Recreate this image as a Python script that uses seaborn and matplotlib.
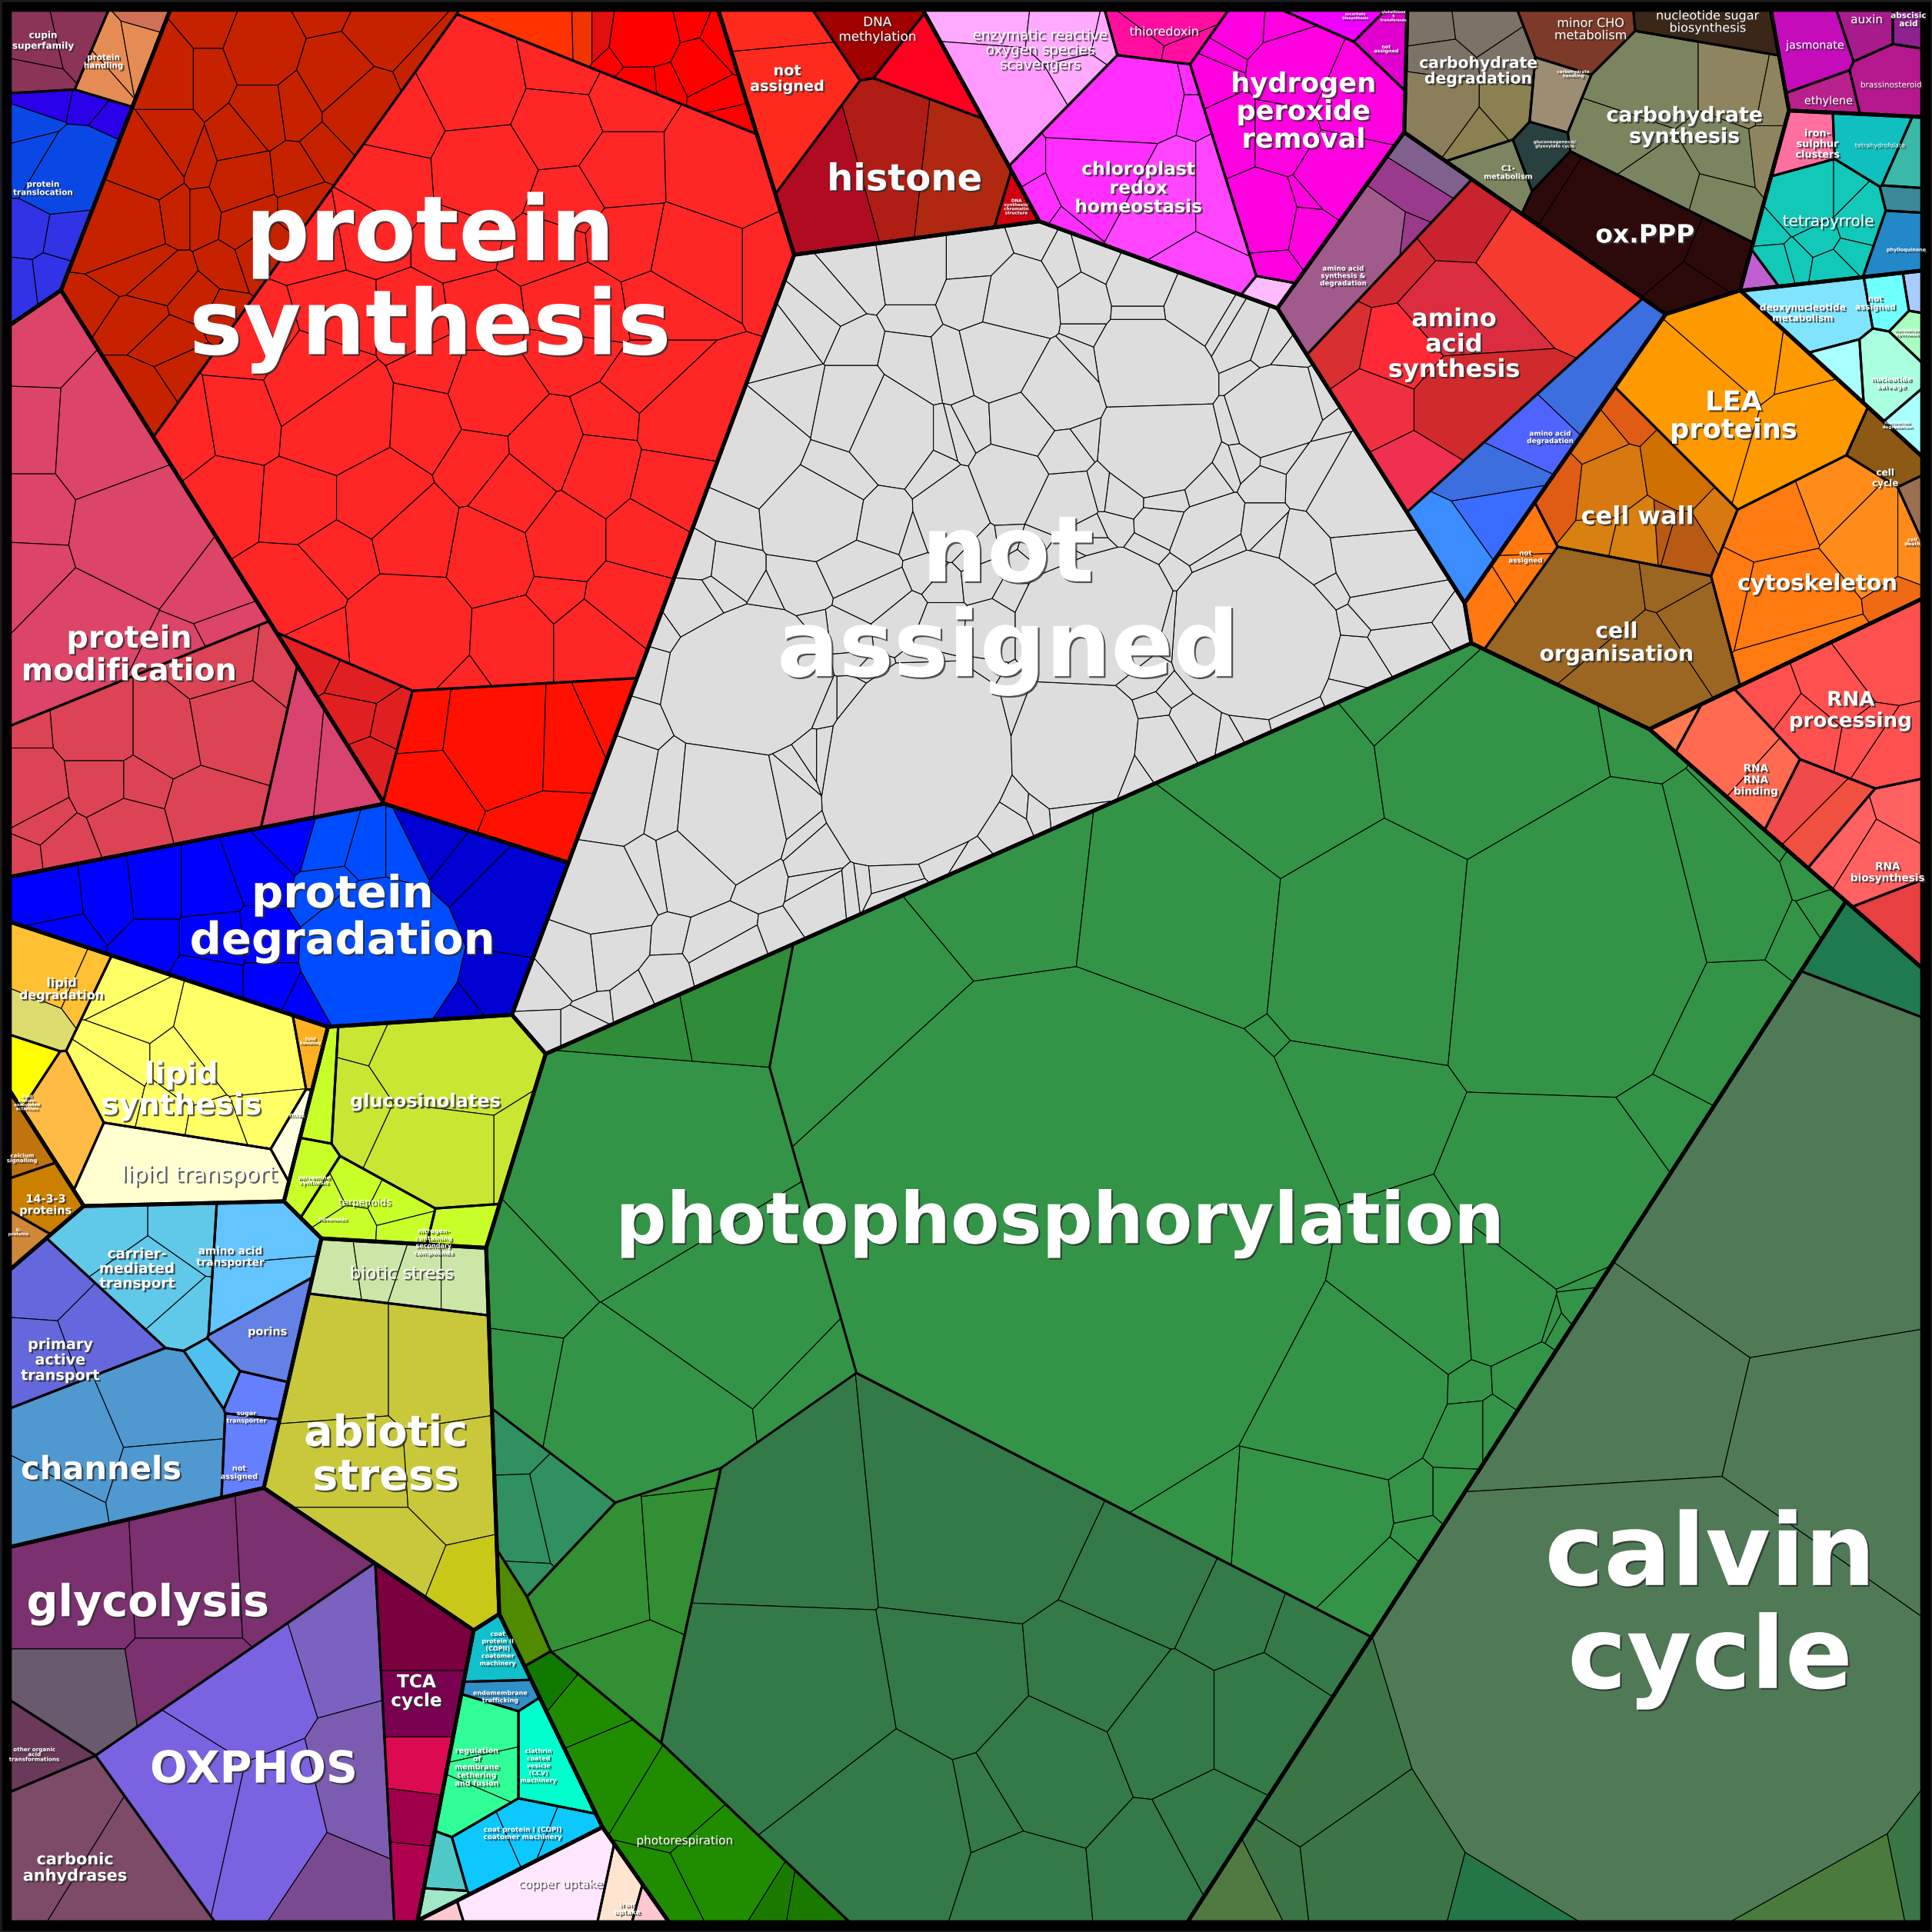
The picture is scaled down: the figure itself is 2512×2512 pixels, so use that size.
import numpy as np
import matplotlib
matplotlib.use("Agg")
import matplotlib.pyplot as plt
import matplotlib.patheffects as pe
import seaborn as sns

# voronoi treemap of proteome mass fractions, areas in 1000 px^2 of the 1568 px view
super_names = ["photosyn", "na", "protein", "chromatin", "redox", "amino", "carbo", "hormone", "cofactor", "nucleotide",
               "cellorg", "rna", "lipid", "signal", "secondary", "transport", "stress", "energy", "vesicle", "micro"]
super_areas = [1001.2, 283, 434, 34.8, 65.7, 60, 56.4, 9.7, 17.2, 11.1, 82.1, 33.1, 42.7, 4.35, 31.1, 56.4, 43.8, 112.3,
               18.3, 7.9]
super_sites = [(1030, 1139), (762, 535), (280, 356), (719, 220), (917, 111), (1157, 284), (1271, 120), (1504, 78),
               (1499, 182), (1510, 281), (1371, 433), (1469, 638), (111, 868), (-26, 956), (317, 920), (117, 1122),
               (303, 1165), (172, 1358), (462, 1414), (508, 1505)]
super_children = {"photosyn": ["photo", "calvin group"], "protein": ["psyn", "pmod", "pdeg", "ptop"]}
group_areas = {"photo": 735.6, "calvin group": 265.6, "psyn": 276.8, "pmod": 81.9, "pdeg": 55, "ptop": 20.3}
group_sites = {"photo": (830, 1020), "calvin group": (1323, 1338), "psyn": (360, 310), "pmod": (109, 468),
               "pdeg": (185, 857), "ptop": (-128, 120)}

bin_names = {
    "photo": ["phos", "phos left", "phos strip", "dark", "midgreen", "teal", "cam", "resp"],
    "calvin group": ["calvin", "corner"],
    "na": ["na"],
    "psyn": ["syn dark", "syn main", "syn top", "syn bright", "syn cluster"],
    "pmod": ["modif", "modif low", "modif tri"],
    "pdeg": ["degr"],
    "ptop": ["transloc", "handling", "cupin"],
    "chromatin": ["chrom na", "dna meth", "histone", "chrom red", "dna syn"],
    "redox": ["ros", "thio", "chloro", "h2o2", "asc", "redox na", "redox small"],
    "amino": ["aa mix", "aa syn", "aa deg"],
    "carbo": ["c deg", "c minor", "c sugar", "c syn", "c hand", "c gluco", "c c1", "oppp"],
    "hormone": ["jasm", "auxin", "aba", "brass", "ethyl"],
    "cofactor": ["iron s", "thf", "pyr", "tetrap", "phyllo", "fmn", "nad"],
    "nucleotide": ["deoxy", "nuc na", "nuc blue", "nuc syn", "salvage", "nuc ribo", "nuc deg"],
    "cellorg": ["lea", "ccycle", "wall", "cyto", "corg", "org na", "cdeath"],
    "rna": ["rna proc", "rna bind", "rna bio", "rna small", "rna mid", "rna edge"],
    "lipid": ["l deg", "l syn", "l trans", "l hand", "misc", "l bodies", "l orange"],
    "signal": ["14-3-3", "calcium", "gprot"],
    "secondary": ["gluc", "terp", "sec left", "ncont", "polyam"],
    "transport": ["carrier", "aatrans", "porin", "primary", "channel", "tr na", "sugar", "tr small"],
    "stress": ["biotic", "abiotic"],
    "energy": ["glyc", "orgacid", "carbonic", "oxphos", "tca"],
    "vesicle": ["copii", "endo", "regul", "clath", "copi", "snare", "cargo"],
    "micro": ["copper", "iron", "sulfur", "micro pink"],
}
bin_areas = {
    "photo": [421.7, 82.6, 8.9, 170.7, 18.6, 7.9, 1.8, 21],
    "calvin group": [261, 4.6],
    "na": [283.5],
    "psyn": [54, 185.7, 11, 20.6, 5.5],
    "pmod": [43, 32.5, 6.4],
    "pdeg": [55],
    "ptop": [10.5, 3.2, 3.8],
    "chromatin": [9.4, 2.9, 18.5, 3, 0.8],
    "redox": [10.5, 3, 21, 22.8, 1, 1.5, 0.6],
    "amino": [10.2, 36.7, 14.8],
    "carbo": [11, 3.5, 3, 20, 2, 1.5, 2, 12.5],
    "hormone": [2.8, 1.2, 0.6, 2.5, 1.2],
    "cofactor": [1.5, 2, 0.9, 6.5, 1.5, 0.4, 0.5],
    "nucleotide": [3.8, 1.2, 0.4, 0.6, 2.5, 1, 0.8],
    "cellorg": [19.7, 2, 13.5, 19.5, 18.3, 3.5, 0.5],
    "rna": [14, 6, 6, 2, 4, 0.6],
    "lipid": [5, 18, 7.5, 0.8, 0.8, 1.2, 3.3],
    "signal": [2.5, 1.5, 0.9],
    "secondary": [20, 4.5, 1.5, 1.5, 1.5],
    "transport": [9, 5.5, 3, 8, 17, 2, 1.2, 1],
    "stress": [7, 36.8],
    "energy": [37.3, 2.6, 14.9, 44.1, 13.4],
    "vesicle": [1.7, 1, 5, 3, 4.5, 1, 0.5],
    "micro": [5, 1.2, 0.3, 0.4],
}
bin_sites = {
    "photo": [(710, 1085), (629, 1108), (632, 1070), (669, 1165), (646, 1160), (613, 1129), (389, 1272), (456, 1389)],
    "calvin group": [(1350, 1200), (1510, 780)],
    "na": [(800, 480)],
    "psyn": [(351, 143), (397, 176), (401, 166), (421, 603), (235, 554)],
    "pmod": [(64, 444), (121, 585), (259, 616)],
    "pdeg": [(265, 740)],
    "ptop": [(47, 160), (80, 50), (40, 33)],
    "chromatin": [(638, 70), (705, 25), (725, 135), (752, 62), (825, 165)],
    "redox": [(838, 60), (945, 30), (930, 150), (1058, 110), (1100, 15), (1125, 40), (1035, 235)],
    "amino": [(1105, 200), (1190, 280), (1258, 355)],
    "carbo": [(1198, 65), (1290, 30), (1385, 22), (1370, 110), (1277, 72), (1262, 125), (1222, 140), (1330, 190)],
    "hormone": [(1470, 40), (1515, 25), (1542, 25), (1535, 70), (1485, 82)],
    "cofactor": [(1475, 120), (1525, 118), (1552, 130), (1490, 175), (1548, 195), (1432, 218), (1550, 160)],
    "nucleotide": [(1465, 255), (1522, 245), (1553, 240), (1548, 270), (1510, 310), (1480, 312), (1540, 345)],
    "cellorg": [(1405, 330), (1528, 385), (1325, 410), (1475, 470), (1305, 515), (1228, 460), (1552, 435)],
    "rna": [(1495, 560), (1420, 630), (1525, 705), (1550, 770), (1460, 650), (1350, 592)],
    "lipid": [(50, 805), (165, 860), (150, 955), (248, 845), (241, 905), (22, 890), (60, 915)],
    "signal": [(35, 975), (18, 925), (15, 1010)],
    "secondary": [(350, 885), (295, 985), (262, 880), (358, 1000), (248, 955)],
    "transport": [(110, 1035), (190, 1040), (215, 1085), (50, 1100), (85, 1190), (195, 1195), (200, 1150), (165, 1135)],
    "stress": [(327, 1030), (310, 1170)],
    "energy": [(116, 1304), (39, 1423), (81, 1522), (205, 1433), (337, 1426)],
    "vesicle": [(404, 1345), (405, 1380), (390, 1430), (437, 1430), (425, 1490), (362, 1508), (360, 1540)],
    "micro": [(440, 1530), (510, 1545), (360, 1555), (535, 1552)],
}
bin_colors = {
    "photo": ["#339448", "#339448", "#2f8c38", "#337a48", "#338f33", "#309060", "#4f8a00", "#208c00"],
    "calvin group": ["#4f7a55", "#1f7a4f"],
    "na": ["#dddddd"],
    "psyn": ["#c62200", "#ff2626", "#ff0000", "#ff1000", "#e02020"],
    "pmod": ["#dc4468", "#dc4455", "#d8446f"],
    "pdeg": ["#0000ff"],
    "ptop": ["#0a48e6", "#e58c55", "#8c3358"],
    "chromatin": ["#ff2a1e", "#a00000", "#b00b20", "#ff0020", "#d00010"],
    "redox": ["#ffaaff", "#ff0ea0", "#ff2dff", "#ff00e0", "#f000ff", "#e000d0", "#ffbbff"],
    "amino": ["#a05a8c", "#dc2c40", "#3a8cff"],
    "carbo": ["#8a7f5a", "#7d3a28", "#3a2718", "#7a8560", "#9d8d72", "#284040", "#7d8560", "#2d0a0a"],
    "hormone": ["#c40cbb", "#a81b8c", "#8f2090", "#b5188c", "#b8208c"],
    "cofactor": ["#ff70a0", "#10c0c0", "#3ab8a8", "#12c8b8", "#2288c8", "#c060d0", "#3a8898"],
    "nucleotide": ["#80e4ff", "#70ffff", "#a8ccff", "#a8ffc0", "#aaffe0", "#aaffff", "#aaffff"],
    "cellorg": ["#ff9900", "#8c5a14", "#c87010", "#ff7a10", "#9a6622", "#ff7810", "#9a7050"],
    "rna": ["#ff5050", "#ff6a50", "#ff6060", "#e84040", "#f04a4a", "#ff7a50"],
    "lipid": ["#ffc033", "#ffff66", "#ffffd0", "#ffb020", "#ffffe0", "#ffff00", "#ffbb44"],
    "signal": ["#cc8000", "#c07410", "#d08838"],
    "secondary": ["#c8e632", "#c8ff28", "#c8ff28", "#c8ff28", "#c8ff28"],
    "transport": ["#60c8e8", "#64c4ff", "#6482e6", "#6468dc", "#4f98d0", "#6480ff", "#6480ff", "#50c0f0"],
    "stress": ["#cce6a8", "#c8c83a"],
    "energy": ["#7b3070", "#6b3a5a", "#7d4a68", "#7b62e0", "#dc0a50"],
    "vesicle": ["#10c0cc", "#3090c8", "#30ff98", "#00ffcc", "#0cc8ff", "#50c8c8", "#a0e8c8"],
    "micro": ["#ffe6ff", "#ffe4d0", "#ffc8d0", "#ffc8d0"],
}

na_ring_areas = [0.5] * 54
na_ring_sites = [(540, 490), (580, 462), (620, 464), (665, 488), (684, 520), (687, 560), (674, 600), (645, 610),
                 (666, 560), (660, 600), (662, 645), (680, 685), (712, 703), (760, 712), (802, 695), (842, 655),
                 (843, 590), (805, 535), (700, 535), (750, 522), (838, 555), (952, 590), (948, 640), (905, 668),
                 (860, 672), (960, 520), (962, 468), (1000, 452), (1050, 448), (1092, 470), (1112, 510), (1106, 560),
                 (1076, 592), (1040, 600), (1000, 603), (965, 578), (830, 470), (880, 437), (930, 438), (870, 290),
                 (868, 340), (900, 384), (945, 386), (985, 368), (1006, 330), (1006, 280), (985, 248), (935, 240),
                 (885, 252), (1040, 278), (1079, 300), (1082, 345), (1050, 362), (1010, 360)]
leaf_areas = {
    "phos": [130, 12, 22, 24, 40, 12.7, 20, 7, 3, 12, 15.5, 5.4, 1, 1.5, 0.8, 2, 1.4, 1, 0.9, 11.5, 3, 4, 0.3, 0.5, 0.3,
             0.2, 14, 20, 2.5, 3, 17, 9, 0.8, 0.8, 0.8, 1.5, 0.6],
    "phos left": [33, 6, 18, 17, 3.2, 4],
    "phos strip": [3, 6],
    "dark": [20, 26, 9, 5, 4, 26, 11.5, 8, 7.5, 7.5, 10, 2.5, 18, 7, 7, 5],
    "calvin": [52, 24.5, 25, 124, 9.6, 11.5, 2.5, 2.6, 3, 5, 2],
    "midgreen": [7, 4.5, 5, 0.5],
    "teal": [1, 1.7, 2.2, 0.4],
    "resp": [2, 1, 3.5, 4, 5, 2, 0.9, 1],
    "na": [6.5, 6.5, 4.7, 14, 22, 9.5, 15.5, 12,
           2, 2, 3, 2, 1, 1, 1, 2, 1.6, 2.2, 1.6, 1, 1.2, 1.6, 3.4, 1.6, 3.4, 3.4, 2.2, 1.6, 1.6, 2, 3, 4.5, 2, 5, 1.6,
           2, 5, 2, 2, 2, 1.6, 1.6, 1.2, 1.6, 2, 1.6, 1, 1.6, 1, 4, 1.4, 2, 8, 1.6, 1.4, 3, 1.2, 5, 1.4, 1.8, 1, 1.8,
           1.6, 1, 2.4, 2, 1.2, 1, 0.6, 1, 1.4, 0.8, 0.8, 1.2, 0.6, 0.4, 2, 1.6, 1, 1.6, 2, 1, 2.4, 4, 4.5, 1.8, 2, 1,
           2.4, 1, 1, 0.8, 0.6, 0.8,
           3.4, 3.2, 2.2, 0.6, 1, 2, 1.2, 0.6, 0.8, 0.5, 0.8, 0.5, 0.6, 0.5, 0.8, 0.8, 1, 0.6, 0.6] + na_ring_areas,
    "syn main": [5, 1.5, 2, 3, 2, 4.5, 3, 2, 3, 5.5, 4, 2.5, 2.5, 2.5, 3, 2.5, 2, 3, 3.5, 2.5, 3, 3, 3, 3, 3, 2.5, 3.5,
                 1.5, 4.5, 3, 2, 5, 1.5, 2.5, 2, 2.5, 2.5, 2.5, 2, 3, 3, 3, 2.5, 3, 3.5, 3, 2, 3.5, 2.5, 1, 6.5, 3.5, 3,
                 1, 0.5],
    "syn dark": [2.5, 1, 0.6, 2, 1.8, 1.2, 1.8, 0.6, 1.2, 1, 1.8, 1.2, 0.6, 1, 0.9, 1, 1.4, 1.9, 0.8, 0.8, 1, 0.8, 2.7,
                 0.9, 1.1, 1, 1, 1, 1.4, 0.8, 0.8, 1.1, 1.4, 0.8],
    "syn top": [1.8, 0.6, 0.5, 2, 1.2, 0.8, 0.5, 0.4, 0.5, 0.3, 0.6, 0.4],
    "syn bright": [1.5, 1.5, 6, 3, 3, 3],
    "syn cluster": [0.7, 0.8, 0.8, 0.7, 0.7],
    "modif": [3.5, 2.5, 6, 2.5, 8, 2.2, 8.5, 2.5, 1, 1.5],
    "modif low": [2.3, 1.3, 3, 3, 4, 1.5, 1, 3.3, 2, 0.7, 2, 0.8, 1.2, 0.6],
    "modif tri": [2.3, 1.5],
    "degr": [1.5, 1.5, 1.5, 1.6, 1.5, 0.8, 0.6, 1.2, 1.2, 1.3, 0.8, 0.9, 0.5, 8, 1, 1, 0.8, 1, 3.5, 1.2, 1.5, 0.4, 1],
    "transloc": [0.8, 0.6, 0.6, 3.5, 1, 0.8, 1.2, 1, 0.9, 0.8],
    "handling": [0.5, 1, 0.9, 0.9],
    "cupin": [1.2, 1.2, 0.8],
    "histone": [5, 5.5, 5.3],
    "chrom na": [7, 2.4],
    "ros": [2, 2, 5, 1, 0.5],
    "thio": [1.4, 1, 0.6],
    "chloro": [6, 5, 5, 2.5, 2.5, 0.8, 0.8, 0.8, 0.3, 0.5],
    "h2o2": [1.5, 0.8, 4.5, 5, 3, 1.5, 0.6, 3.5, 1.5, 1, 2.5, 0.4, 4],
    "aa mix": [6.5, 1.8, 1.5, 0.4],
    "aa syn": [3, 8, 6, 3, 7, 3, 2.6, 2, 1.5],
    "aa deg": [4, 2.5, 2.4, 2.8, 2],
    "c deg": [1, 1.5, 1.5, 1.5, 3, 1.5, 1],
    "c syn": [5, 3, 3, 2.5, 2, 2, 1, 1],
    "oppp": [8, 2, 1.5, 1],
    "tetrap": [1.8, 1, 0.4, 0.5, 0.4, 0.5, 0.4, 0.5, 0.5],
    "lea": [8, 6, 4.5, 1.2],
    "wall": [1, 1, 1.5, 2.5, 2.2, 1, 1.5, 1.5, 1, 0.5],
    "cyto": [5, 3.5, 3, 2.5, 1, 2, 1, 1.5],
    "corg": [8, 6, 3, 1.3],
    "org na": [1, 1, 1.5],
    "rna proc": [4, 2.5, 2.5, 2, 1.5, 1.5],
    "rna bind": [4, 2],
    "rna bio": [3, 1.5, 1.5],
    "l syn": [6, 2, 1.5, 2, 2, 1.6, 1.2, 1.2, 1.4],
    "l deg": [2.5, 1, 1.5],
    "gluc": [9, 7, 3, 1, 1.4],
    "terp": [1, 1, 1, 0.8, 0.7],
    "carrier": [3, 2.5, 2, 1.5],
    "aatrans": [3, 2.5],
    "primary": [2.5, 3, 2.5],
    "channel": [5, 5, 4, 3],
    "abiotic": [7, 7, 7, 6, 4, 3],
    "biotic": [1.6, 1.6, 1.8, 2],
    "glyc": [7, 7, 6, 5, 3],
    "carbonic": [8, 7],
    "oxphos": [8, 7, 6, 5, 5, 4],
    "tca": [4, 3, 2, 1.5, 1.5],
    "regul": [2, 1.5, 1.5],
    "copi": [2, 1.5, 1],
    "rna mid": [2, 2],
}
leaf_sites = {
    "phos": [(859, 1004), (820, 730), (955, 745), (1105, 760), (1265, 775), (1082, 905), (1258, 976), (1389, 835),
             (1350, 910), (1132, 1056), (1082, 1121), (1201, 1051), (1176, 1124), (1235, 1121), (1205, 1166),
             (1180, 1166), (1140, 1212), (1178, 1212), (1147, 1247), (1059, 1222), (1117, 1282), (990, 1217),
             (1268, 1075), (1285, 1060), (1305, 1048), (1255, 1068), (1035, 640), (1175, 620), (1290, 600), (1125, 565),
             (700, 830), (1385, 745), (1430, 700), (1460, 720), (1470, 750), (1440, 770), (1015, 838)],
    "phos left": [(530, 940), (435, 1030), (590, 1040), (530, 1125), (660, 1108), (425, 1105)],
    "phos strip": [(500, 842), (590, 825)],
    "dark": [(635, 1226), (787, 1211), (921, 1274), (993, 1308), (1068, 1335), (629, 1390), (769, 1366), (885, 1356),
             (942, 1400), (1026, 1400), (847, 1438), (799, 1467), (703, 1486), (823, 1525), (930, 1515), (984, 1486)],
    "calvin": [(1450, 971), (1331, 1141), (1484, 1177), (1345, 1375), (1086, 1453), (1128, 1513), (1042, 1523),
               (1012, 1538), (1243, 1543), (1442, 1548), (1542, 1528)],
    "midgreen": [(476, 1269), (548, 1264), (506, 1361), (542, 1209)],
    "teal": [(420, 1170), (422, 1225), (465, 1215), (420, 1265)],
    "resp": [(482, 1390), (453, 1366), (500, 1433), (548, 1462), (590, 1510), (530, 1540), (638, 1540), (668, 1545)],
    "na": [(935, 280), (937, 346), (1037, 320), (609, 536), (753, 613), (893, 609), (1030, 525), (898, 503),
           (666, 245), (696, 219), (741, 212), (796, 212), (838, 197), (870, 214), (900, 206), (935, 223), (885, 236),
           (965, 236), (995, 254), (1020, 263), (741, 258), (798, 236), (825, 241), (776, 291), (815, 282), (855, 304),
           (736, 298), (686, 287), (646, 269), (629, 282), (686, 337), (706, 346), (641, 328), (621, 352), (674, 374),
           (601, 398), (664, 392), (656, 447), (698, 398), (686, 433), (696, 455), (718, 482), (681, 486), (756, 497),
           (810, 503), (591, 447), (551, 442), (571, 468), (531, 521), (502, 613), (514, 578), (554, 622), (596, 626),
           (639, 617), (626, 677), (569, 655), (532, 661), (492, 681), (676, 661), (691, 705), (554, 720), (601, 731),
           (611, 749), (646, 736), (479, 718), (497, 716), (454, 740), (457, 806), (502, 775), (537, 771), (556, 762),
           (487, 806), (756, 698), (835, 666), (786, 685), (736, 700), (955, 615), (980, 600), (940, 556), (1109, 547),
           (1144, 525), (1169, 508), (1139, 486), (1132, 447), (1129, 414), (1094, 394), (1084, 455), (1040, 392),
           (987, 431), (1040, 438), (942, 414), (908, 385), (900, 416), (970, 379),
           (756, 396), (818, 372), (864, 394), (766, 341), (791, 328), (830, 326), (860, 346), (746, 346), (736, 368),
           (726, 407), (786, 425), (820, 420), (850, 429), (880, 425), (736, 438), (756, 455), (796, 451), (835, 447),
           (875, 447)] + na_ring_sites,
    "syn main": [(387, 67), (454, 54), (330, 96), (450, 94), (497, 76), (393, 129), (322, 134), (456, 152), (497, 127),
                 (573, 125), (548, 196), (606, 196), (502, 187), (443, 192), (376, 178), (297, 178), (247, 187),
                 (522, 241), (464, 250), (460, 278), (397, 259), (330, 268), (268, 268), (209, 285), (252, 316),
                 (522, 321), (397, 321), (347, 303), (268, 339), (205, 334), (150, 343), (556, 357), (497, 352),
                 (447, 370), (389, 375), (339, 343), (549, 401), (493, 388), (422, 401), (301, 401), (247, 401),
                 (192, 397), (531, 433), (464, 433), (401, 446), (330, 433), (276, 446), (242, 477), (518, 482),
                 (460, 473), (326, 508), (418, 513), (493, 513), (259, 513), (368, 549)],
    "syn dark": [(213, 40), (167, 22), (263, 13), (301, 31), (125, 58), (167, 58), (272, 58), (330, 58), (213, 80),
                 (242, 76), (288, 76), (125, 94), (159, 107), (196, 94), (263, 100), (238, 116), (201, 120), (96, 107),
                 (125, 138), (163, 138), (209, 143), (247, 143), (92, 143), (184, 183), (226, 169), (105, 178),
                 (125, 201), (84, 210), (117, 232), (150, 223), (176, 236), (138, 254), (117, 303), (150, 281)],
    "syn top": [(391, 20), (445, 20), (466, 20), (514, 27), (560, 50), (573, 76), (525, 67), (585, 98), (552, 18),
                (489, 45), (590, 30), (538, 95)],
    "syn bright": [(330, 580), (472, 571), (397, 589), (334, 633), (426, 669), (430, 590)],
    "syn cluster": [(263, 535), (293, 550), (288, 575), (313, 580), (300, 607)],
    "modif": [(33, 281), (31, 335), (94, 339), (31, 388), (117, 401), (29, 428), (79, 477), (176, 446), (192, 490),
              (150, 512)],
    "modif low": [(176, 530), (217, 535), (82, 580), (136, 580), (188, 571), (82, 625), (109, 625), (167, 642),
                  (100, 660), (21, 585), (21, 633), (31, 652), (54, 678), (19, 682)],
    "modif tri": [(242, 625), (284, 629)],
    "degr": [(30, 730), (75, 725), (120, 720), (170, 720), (225, 700), (255, 670), (35, 755), (120, 770), (175, 770),
             (225, 765), (170, 800), (225, 800), (255, 815), (335, 770), (290, 680), (325, 690), (355, 690), (295, 720),
             (430, 730), (400, 700), (420, 790), (395, 810), (375, 680)],
    "transloc": [(37, 75), (60, 80), (78, 95), (55, 145), (30, 130), (25, 110), (32, 190), (60, 195), (28, 225),
                 (52, 222)],
    "handling": [(108, 22), (72, 55), (100, 50), (50, 68)],
    "cupin": [(25, 25), (65, 16), (18, 60)],
    "histone": [(680, 145), (735, 130), (780, 135)],
    "chrom na": [(635, 80), (630, 25)],
    "ros": [(828, 21), (880, 27), (823, 89), (886, 52), (905, 30)],
    "thio": [(945, 25), (930, 45), (955, 50)],
    "chloro": [(912, 89), (909, 146), (946, 166), (1001, 166), (977, 218), (967, 100), (849, 146), (862, 168), (967, 77),
               (880, 181)],
    "h2o2": [(1012, 17), (1046, 19), (1059, 60), (1112, 83), (1051, 104), (985, 69), (993, 50), (1030, 173), (1070, 181),
             (1033, 208), (1001, 104), (1072, 160), (1101, 135)],
    "aa mix": [(1085, 240), (1130, 175), (1155, 135), (1095, 300)],
    "aa syn": [(1195, 165), (1255, 205), (1190, 265), (1150, 300), (1195, 340), (1135, 340), (1160, 405), (1100, 290),
               (1135, 215)],
    "aa deg": [(1295, 270), (1260, 315), (1230, 380), (1200, 445), (1235, 425)],
    "c deg": [(1165, 30), (1205, 25), (1170, 65), (1225, 55), (1165, 100), (1220, 100), (1195, 122)],
    "c syn": [(1350, 70), (1415, 70), (1330, 130), (1395, 125), (1345, 165), (1385, 165), (1440, 120), (1440, 75)],
    "oppp": [(1325, 185), (1395, 215), (1375, 245), (1270, 150)],
    "tetrap": [(1488, 155), (1535, 170), (1480, 200), (1510, 205), (1460, 180), (1500, 180), (1525, 195), (1462, 205),
               (1510, 155)],
    "lea": [(1365, 320), (1450, 345), (1400, 280), (1435, 285)],
    "wall": [(1280, 380), (1310, 355), (1250, 410), (1295, 415), (1360, 405), (1290, 460), (1360, 465), (1325, 455),
             (1400, 440), (1345, 490)],
    "cyto": [(1445, 490), (1505, 440), (1430, 420), (1470, 405), (1545, 440), (1455, 540), (1530, 480), (1400, 480)],
    "corg": [(1270, 490), (1325, 555), (1370, 525), (1345, 480)],
    "org na": [(1238, 420), (1240, 470), (1208, 490)],
    "rna proc": [(1510, 530), (1530, 620), (1470, 560), (1445, 590), (1500, 600), (1420, 575)],
    "rna bind": [(1400, 615), (1450, 665)],
    "rna bio": [(1520, 715), (1480, 690), (1545, 670)],
    "l syn": [(195, 855), (110, 835), (90, 890), (150, 890), (60, 915), (200, 905), (125, 930), (160, 925), (100, 815)],
    "l deg": [(45, 800), (100, 810), (25, 850)],
    "gluc": [(355, 870), (345, 950), (280, 920), (300, 845), (405, 950)],
    "terp": [(285, 965), (315, 980), (280, 998), (320, 1000), (265, 975)],
    "carrier": [(105, 1060), (70, 1010), (140, 1010), (130, 1100)],
    "aatrans": [(185, 1010), (190, 1070)],
    "primary": [(40, 1060), (90, 1110), (35, 1130)],
    "channel": [(50, 1200), (120, 1170), (125, 1230), (30, 1240)],
    "abiotic": [(275, 1100), (345, 1100), (280, 1170), (355, 1165), (280, 1240), (380, 1280)],
    "biotic": [(280, 1035), (315, 1030), (345, 1040), (378, 1040)],
    "glyc": [(60, 1280), (155, 1275), (250, 1270), (60, 1385), (155, 1370)],
    "carbonic": [(45, 1490), (110, 1530)],
    "oxphos": [(120, 1480), (210, 1500), (170, 1400), (265, 1370), (295, 1480), (270, 1540)],
    "tca": [(340, 1340), (340, 1410), (340, 1450), (335, 1490), (330, 1540)],
    "regul": [(380, 1400), (390, 1445), (375, 1480)],
    "copi": [(400, 1500), (445, 1480), (470, 1490)],
    "rna mid": [(1455, 640), (1475, 660)],
}
leaf_colors = {
    "calvin": ["#4f7a55"] * 4 + ["#3b7546", "#3b7546", "#3b7546", "#507a42", "#247548", "#4a7a3c", "#3a7546"],
    "resp": ["#1f8c00", "#107a00", "#208c00", "#208c00", "#208c00", "#208c00", "#1a7a00", "#1a7a00"],
    "syn top": ["#ff3300", "#f03500", "#e01010"] + ["#ff0000"] * 9,
    "degr": ["#0000ff"] * 13 + ["#004cff"] * 5 + ["#0000d2"] * 5,
    "transloc": ["#2a00e8"] * 3 + ["#0a48e6"] * 3 + ["#3232e6"] * 4,
    "handling": ["#d07058", "#e58c55", "#e58c55", "#e58c55"],
    "histone": ["#b00b20", "#b01d14", "#b02810"],
    "ros": ["#ffaaff", "#ffaaff", "#ff99ff", "#ffaaff", "#ffaaff"],
    "chloro": ["#ff2dff", "#ff2dff", "#ff45ff", "#ff45ff", "#ff45ff", "#ff2dff", "#ff2dff", "#ff2dff", "#ff2dff",
               "#ff2dff"],
    "aa mix": ["#a05a8c", "#9a3a8c", "#80608c", "#9a3a8c"],
    "aa syn": ["#c8232f", "#f53a30", "#dc2c40", "#ff2a35", "#d02a2c", "#f03040", "#f03050", "#d83030", "#d02a30"],
    "aa deg": ["#3c6ee0", "#4f64ff", "#3c6ee0", "#3a8cff", "#3a6cff"],
    "c deg": ["#7d7266", "#7d7266", "#7d7266", "#7d7266", "#8a7f5a", "#8a8050", "#8a8050"],
    "c syn": ["#7a8560", "#8e8560", "#7a8560", "#7a8560", "#7a8560", "#7a8560", "#8e8560", "#8e8560"],
    "wall": ["#e07010", "#e05c14", "#e05c14", "#d87810", "#d07000", "#d88010", "#b85a14", "#d88010", "#d87810", "#b85a14"],
    "cyto": ["#ff7a10", "#ff8c1a", "#ff7a10", "#ff8c1a", "#ff8c1a", "#ff7a10", "#f06a14", "#ff7a10"],
    "l deg": ["#ffc033", "#ffc033", "#dcdc6e"],
    "glyc": ["#7b3070", "#7b3070", "#7b3070", "#6a5a6e", "#7b3070"],
    "oxphos": ["#7b62e0", "#7b62e0", "#7b62e0", "#7b62c0", "#7b5cb0", "#7a4a90"],
    "tca": ["#7a0040", "#7a0050", "#dc0a50", "#a0004a", "#b00050"],
    "abiotic": ["#c8c83a", "#c8c83a", "#c8c83a", "#c8c83a", "#c8c83a", "#c8c818"],
    "rna mid": ["#f04a4a", "#f05040"],
}
thin_outline = ["phos left", "phos strip"]

# text stays apart from the values
label_text = ["protein\nsynthesis", "not\nassigned", "photophosphorylation", "calvin\ncycle", "histone",
              "protein\nmodification", "protein\ndegradation", "glycolysis", "OXPHOS", "channels", "abiotic\nstress",
              "lipid\nsynthesis", "glucosinolates", "lipid transport", "hydrogen\nperoxide\nremoval",
              "chloroplast\nredox\nhomeostasis", "enzymatic reactive\noxygen species\nscavengers", "thioredoxin",
              "not\nassigned", "DNA\nmethylation", "amino\nacid\nsynthesis", "carbohydrate\ndegradation",
              "minor CHO\nmetabolism", "nucleotide sugar\nbiosynthesis", "carbohydrate\nsynthesis", "ox.PPP",
              "jasmonate", "auxin", "abscisic\nacid", "ethylene", "brassinosteroid", "iron-\nsulphur\nclusters",
              "tetrahydrofolate", "tetrapyrrole", "deoxynucleotide\nmetabolism", "not\nassigned", "nucleotide\nsalvage",
              "LEA\nproteins", "cell wall", "cytoskeleton", "cell\norganisation", "cell\ncycle", "not\nassigned",
              "amino acid\ndegradation", "amino acid\nsynthesis &\ndegradation", "RNA\nprocessing", "RNA\nRNA\nbinding",
              "RNA\nbiosynthesis", "protein\nhandling", "cupin\nsuperfamily", "protein\ntranslocation",
              "lipid\ndegradation", "14-3-3\nproteins", "carrier-\nmediated\ntransport", "amino acid\ntransporter",
              "porins", "primary\nactive\ntransport", "not\nassigned", "sugar\ntransporter", "biotic stress",
              "carbonic\nanhydrases", "TCA\ncycle", "coat protein I (COPI)\ncoatomer machinery",
              "regulation\nof\nmembrane\ntethering\nand fusion", "clathrin\ncoated\nvesicle\n(CCV)\nmachinery",
              "coat\nprotein II\n(COPII)\ncoatomer\nmachinery", "endomembrane\ntrafficking", "copper uptake",
              "iron\nuptake", "photorespiration", "terpenoids", "other organic\nacid\ntransformations", "misc",
              "C1-\nmetabolism", "cell\ndeath", "DNA\nsynthesis/\nchromatin\nstructure", "carbohydrate\nhandling",
              "gluconeogenesis/\nglyoxylate cycle", "phylloquinone", "polyamine\nsynthesis", "lipid\nhandling",
              "lipid\nbodies-\nassociated\nactivities", "calcium\nsignalling", "G-\nproteins", "glutathione\nS\ntransferases",
              "ascorbate\nbiosynthesis", "not\nassigned", "nucleotide\nsynthesis", "nucleotide\ndegradation",
              "flavonoids", "nitrogen-\ncontaining\nsecondary\ncompounds"]
label_pos = [(349, 229), (818, 490), (860, 993), (1388, 1306), (734, 146), (105, 532), (278, 745), (120, 1302),
             (206, 1437), (82, 1193), (313, 1182), (147, 885), (345, 894), (162, 954), (1058, 91), (924, 153), (844, 41),
             (945, 26), (639, 64), (712, 24), (1180, 280), (1200, 58), (1291, 24), (1386, 18), (1367, 103), (1335, 191),
             (1473, 37), (1515, 16), (1549, 16), (1484, 82), (1535, 69), (1475, 117), (1526, 118), (1484, 180),
             (1463, 254), (1522, 246), (1535, 311), (1407, 338), (1329, 420), (1475, 474), (1312, 522), (1530, 388),
             (1238, 452), (1258, 355), (1090, 224), (1502, 577), (1425, 633), (1532, 708), (84, 50), (35, 33), (35, 153),
             (50, 803), (37, 978), (111, 1030), (187, 1020), (217, 1081), (49, 1104), (194, 1195), (200, 1150),
             (326, 1034), (61, 1516), (338, 1373), (424, 1488), (387, 1434), (437, 1433), (404, 1338), (406, 1377),
             (455, 1529), (509, 1549), (556, 1494), (296, 976), (28, 1424), (241, 905), (1224, 140), (1552, 440),
             (825, 168), (1277, 60), (1262, 117), (1547, 203), (255, 958), (252, 845), (22, 895), (18, 940), (15, 1000),
             (1131, 13), (1100, 13), (1125, 40), (1548, 270), (1540, 345), (270, 990), (352, 1008)]
label_size = [73, 74.6, 57.8, 81, 30, 24.8, 36, 35.7, 35.7, 26, 34.7, 24.3, 15, 18, 22, 14.6, 11.5, 10, 12, 10.5, 20,
              12.7, 10, 10, 16.8, 20.6, 9, 9.5, 6.5, 9, 6.5, 8, 5, 12.5, 7.5, 6.5, 5.5, 22, 20, 18, 17.6, 7.5, 5.5, 5.5,
              5.5, 16.3, 8.5, 8.5, 6.5, 7.5, 6.5, 10, 9, 11.5, 8.5, 9, 12, 6, 5, 14, 13, 14.5, 5.5, 6, 5, 5, 5, 9.5, 5.5,
              9.5, 8, 4.5, 5, 6, 4, 3.5, 3.5, 3.5, 4, 4.5, 3.5, 3.5, 4.5, 3.5, 3, 3, 4, 3.5, 3.5, 4, 5]
label_light = ["lipid transport", "copper uptake", "photorespiration", "thioredoxin", "jasmonate", "auxin", "ethylene",
               "tetrapyrrole", "terpenoids", "biotic stress", "enzymatic reactive\noxygen species\nscavengers",
               "DNA\nmethylation", "minor CHO\nmetabolism", "nucleotide sugar\nbiosynthesis", "brassinosteroid",
               "tetrahydrofolate"]


def poly_area(v):
    x, y = v[:, 0], v[:, 1]
    return 0.5 * abs(np.dot(x, np.roll(y, -1)) - np.dot(y, np.roll(x, -1)))


def clip_poly(verts, owners, n, c, j):
    vals = verts @ n - c
    out_v, out_o = [], []
    m = len(verts)
    for k in range(m):
        a, b = verts[k], verts[(k + 1) % m]
        va, vb = vals[k], vals[(k + 1) % m]
        if va <= 0:
            out_v.append(a)
            out_o.append(owners[k])
            if vb > 0:
                out_v.append(a + (b - a) * va / (va - vb))
                out_o.append(j)
        elif vb <= 0:
            out_v.append(a + (b - a) * va / (va - vb))
            out_o.append(owners[k])
    return np.array(out_v), out_o


def power_cell(i, poly, sites, w):
    # power diagram cell of site i, always clip by the worst violated half plane
    d = sites - sites[i]
    n = 2 * d
    c = (sites ** 2).sum(1) - (sites[i] ** 2).sum() - w + w[i]
    n[i] = 0
    c[i] = 1
    verts, owners = poly.copy(), [-1] * len(poly)
    while len(verts) >= 3:
        viol = (verts @ n.T - c).max(axis=0)
        j = int(np.argmax(viol))
        if viol[j] <= 1e-9:
            return verts, owners
        verts, owners = clip_poly(verts, owners, n[j], c[j], j)
    return np.zeros((0, 2)), []


def inside_mask(poly, pts):
    e = np.roll(poly, -1, axis=0) - poly
    cr = e[:, 0][:, None] * (pts[:, 1] - poly[:, 1][:, None]) - e[:, 1][:, None] * (pts[:, 0] - poly[:, 0][:, None])
    return (cr >= 0).all(axis=0) | (cr <= 0).all(axis=0)


def fit_cells(poly, sites, values, pull=False, iters=70):
    # newton iteration on the weights until cell areas match the values
    sites = np.array(sites, float)
    values = np.array(values, float)
    m = len(values)
    if m == 1:
        return [poly]
    mid = poly.mean(axis=0)
    if pull:
        for i in range(m):
            while not inside_mask(poly, sites[i][None])[0]:
                sites[i] = mid + 0.92 * (sites[i] - mid)
    T = values / values.sum() * poly_area(poly)
    w = np.zeros(m)
    D2 = ((sites[:, None] - sites[None]) ** 2).sum(axis=2)
    lo, hi = poly.min(axis=0), poly.max(axis=0)
    gx, gy = np.meshgrid(np.linspace(lo[0], hi[0], 40), np.linspace(lo[1], hi[1], 40))
    grid = np.c_[gx.ravel(), gy.ravel()]
    grid = np.vstack([grid[inside_mask(poly, grid)], mid])
    G2 = ((grid[:, None] - sites[None]) ** 2).sum(axis=2)

    def all_cells(w):
        cells = [power_cell(i, poly, sites, w) for i in range(m)]
        A = np.array([poly_area(v) if len(v) >= 3 else 0.0 for v, _ in cells])
        return cells, A

    cells, A = all_cells(w)
    for _ in range(iters):
        for i in np.where(A == 0)[0]:
            # bring a vanished cell back above its neighbours
            others = np.delete(G2 - w, i, axis=1).min(axis=1)
            w[i] = (G2[:, i] - others).min() + T[i] / np.pi
        if (A == 0).any():
            cells, A = all_cells(w)
        err = T - A
        if np.max(np.abs(err) / T) < 0.02:
            break
        J = np.eye(m) * 1e-4
        for i, (v, o) in enumerate(cells):
            if len(v) < 3:
                J[i, i] = 1.0
            for k, j in enumerate(o):
                if j < 0:
                    continue
                L = np.linalg.norm(v[(k + 1) % len(v)] - v[k])
                g = L / (2 * np.sqrt(D2[i, j]))
                J[i, j] -= g
                J[i, i] += g
        dw = np.linalg.solve(J, err)
        step = 1.0
        base = np.abs(err).sum()
        for _ in range(8):
            c2, A2 = all_cells(w + step * dw)
            if ((A2 > 0).all() and np.abs(T - A2).sum() < base) or step < 0.02:
                break
            step /= 2
        w = w + step * dw
        cells, A = c2, A2
    return [v for v, _ in cells]


def draw(ax, v, face, lw):
    if len(v) >= 3:
        ax.fill(v[:, 0], v[:, 1], facecolor=face if face else "none", edgecolor="black", linewidth=lw,
                joinstyle="miter")


sns.set_theme(style="white")
fig, ax = plt.subplots(figsize=(25.12, 25.12), dpi=100, facecolor="#1c1c1c")
ax.set_position([0, 0, 1, 1])
ax.set_xlim(0, 1568)
ax.set_ylim(1568, 0)
ax.set_facecolor("black")
ax.axis("off")
ax.add_patch(plt.Rectangle((2, 2), 1564, 1564, color="black"))

root = np.array([(8, 8), (1560, 8), (1560, 1560), (8, 1560)], float)
outlines = []
for sname, sp in zip(super_names, fit_cells(root, super_sites, super_areas)):
    kids = super_children.get(sname, [sname])
    if len(kids) > 1:
        kid_polys = fit_cells(sp, [group_sites[k] for k in kids], [group_areas[k] for k in kids])
    else:
        kid_polys = [sp]
    for g, gp in zip(kids, kid_polys):
        bins = fit_cells(gp, bin_sites[g], bin_areas[g])
        for name, color, bp in zip(bin_names[g], bin_colors[g], bins):
            if len(bp) < 3:
                continue
            if name in leaf_areas:
                leaves = fit_cells(bp, leaf_sites[name], leaf_areas[name], pull=True)
                cols = leaf_colors.get(name, [color] * len(leaves))
                for lv, cl in zip(leaves, cols):
                    draw(ax, lv, cl, 0.8)
            else:
                draw(ax, bp, color, 0.8)
            if name not in thin_outline:
                outlines.append((bp, 2.2))
        outlines.append((gp, 3.6))

for v, lw in outlines:
    draw(ax, v, None, lw)

shadow = [pe.withSimplePatchShadow(offset=(1.6, -1.6), shadow_rgbFace="#303030", alpha=0.8)]
for txt, (x, y), size in zip(label_text, label_pos, label_size):
    ax.text(x, y, txt, ha="center", va="center", ma="center", color="white", fontsize=size * 1.153, linespacing=1.08,
            family="DejaVu Sans", fontweight="normal" if txt in label_light else "bold", path_effects=shadow)

sns.despine(ax=ax, left=True, bottom=True)
fig.savefig("out.png", dpi=100, facecolor=fig.get_facecolor())
